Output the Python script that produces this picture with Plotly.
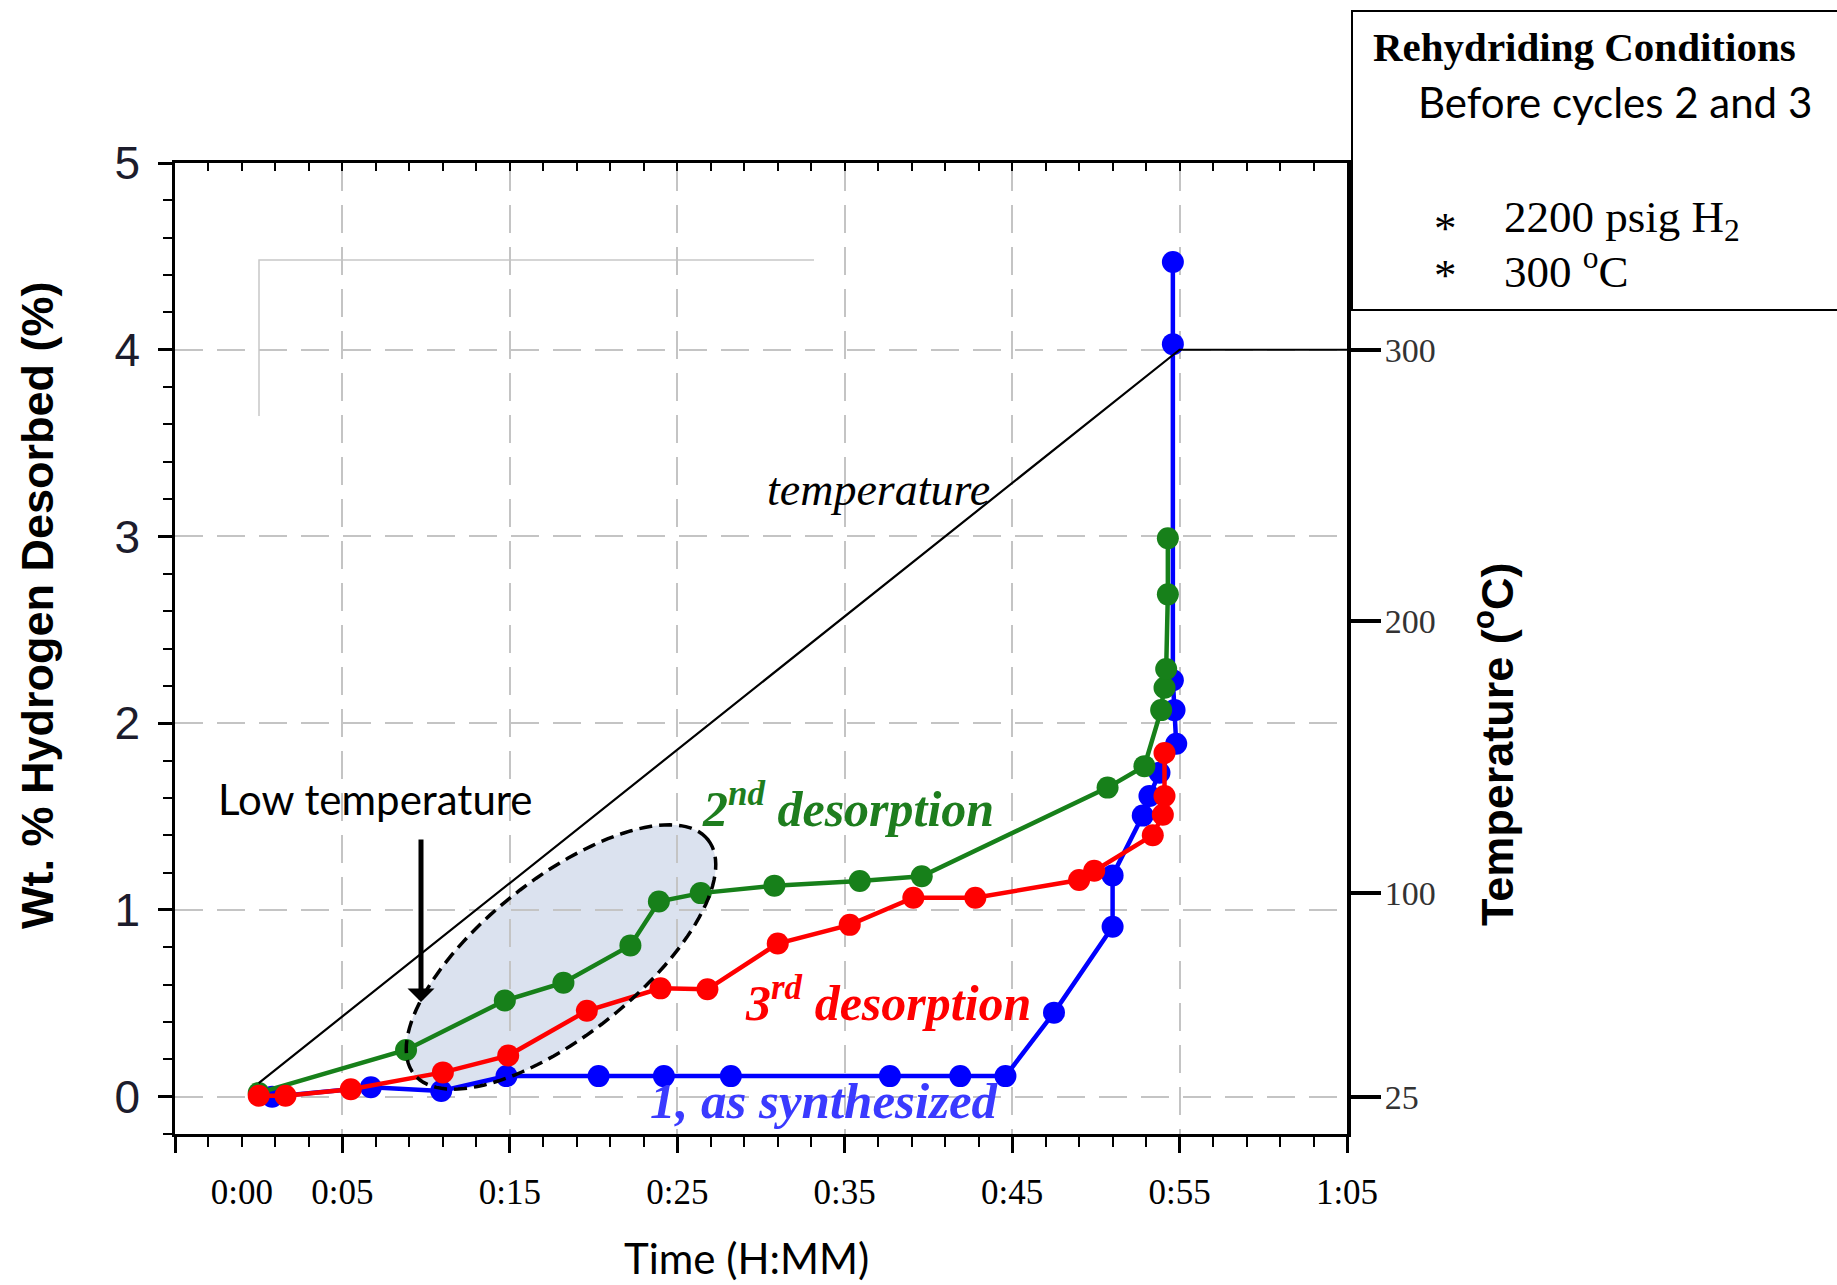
import numpy as np
import plotly.graph_objects as go

# ---------------- data ----------------
# time in minutes, wt.% hydrogen desorbed
blue_time = [0.8, 6.7, 10.9, 14.8, 20.3, 24.2, 28.2, 37.7, 41.9, 44.6, 47.5, 51.0, 51.0,
             52.8, 53.2, 53.8, 54.8, 54.7, 54.6, 54.6, 54.6]
blue_wt = [0.0, 0.05, 0.03, 0.11, 0.11, 0.11, 0.11, 0.11, 0.11, 0.11, 0.45, 0.91, 1.185,
           1.505, 1.61, 1.735, 1.89, 2.07, 2.23, 4.03, 4.47]

green_time = [0.0, 8.8, 14.7, 18.2, 22.2, 23.9, 26.4, 30.8, 35.9, 39.6, 50.7, 52.9, 53.9,
              54.1, 54.2, 54.3, 54.3]
green_wt = [0.02, 0.25, 0.515, 0.61, 0.81, 1.045, 1.09, 1.13, 1.155, 1.18, 1.655, 1.77, 2.07,
            2.19, 2.29, 2.69, 2.99]

red_time = [0.0, 1.6, 5.5, 11.0, 14.9, 19.6, 24.0, 26.8, 31.0, 35.3, 39.1, 42.8, 49.0, 49.9,
            53.4, 54.0, 54.1, 54.1]
red_wt = [0.005, 0.005, 0.04, 0.13, 0.22, 0.46, 0.58, 0.575, 0.82, 0.92, 1.065, 1.065, 1.16,
          1.21, 1.40, 1.51, 1.61, 1.84]

temp_time = [0.0, 55.0, 65.0]
temp_c = [30, 300, 300]

x_tick_vals = [-5, 5, 15, 25, 35, 45, 55, 65]
x_label_vals = [-1, 5, 15, 25, 35, 45, 55, 65]
x_label_text = ["0:00", "0:05", "0:15", "0:25", "0:35", "0:45", "0:55", "1:05"]
y_tick_vals = [0, 1, 2, 3, 4, 5]
temp_tick_vals = [25, 100, 200, 300]

# ---------------- layout geometry ----------------
W, H = 1837, 1285
L, R, T, B = 175, 1347, 163, 1134          # plot area in px
XMIN, XMAX = -5, 65
YMIN, YMAX = -0.2, 5


def wt_to_c(w):
    # temperature axis: 25 C aligned with 0 wt%, 300 C aligned with 4 wt%
    return 25 + w * (300 - 25) / 4.0


def pxp(x):  # pixel -> paper x
    return (x - L) / (R - L)


def pyp(y):  # pixel -> paper y
    return (B - y) / (B - T)


def dx(x):   # pixel -> data x
    return XMIN + (x - L) / (R - L) * (XMAX - XMIN)


def dy(y):   # pixel -> data y
    return YMIN + (B - y) / (B - T) * (YMAX - YMIN)


SERIF = "Liberation Serif"
SANS = "Liberation Sans"
CAL = "Lato"
GRID = "#c4c4c4"


def label(text, x, y, family, size, color="black", xanchor="center", angle=0):
    return dict(text=text, x=pxp(x), y=pyp(y), xref="paper", yref="paper",
                xanchor=xanchor, yanchor="middle", textangle=angle, showarrow=False,
                font=dict(family=family, size=size, color=color))


fig = go.Figure()

fig.add_trace(go.Scatter(x=temp_time, y=temp_c, yaxis="y2", mode="lines",
                         line=dict(color="black", width=2.2), hoverinfo="skip"))
fig.add_trace(go.Scatter(x=blue_time, y=blue_wt, mode="lines+markers",
                         line=dict(color="#0000ff", width=4.5),
                         marker=dict(color="#0000ff", size=22, symbol="circle")))
fig.add_trace(go.Scatter(x=green_time, y=green_wt, mode="lines+markers",
                         line=dict(color="#17801a", width=4.5),
                         marker=dict(color="#17801a", size=22, symbol="circle")))
fig.add_trace(go.Scatter(x=red_time, y=red_wt, mode="lines+markers",
                         line=dict(color="#ff0000", width=4.5),
                         marker=dict(color="#ff0000", size=22, symbol="circle")))
# carriers for the label axis and the top border axis
fig.add_trace(go.Scatter(x=[None], y=[None], xaxis="x2", showlegend=False, hoverinfo="skip"))
fig.add_trace(go.Scatter(x=[None], y=[None], xaxis="x3", showlegend=False, hoverinfo="skip"))

# ---------------- ellipse highlighting the low temperature region ----------------
ecx, ecy = 561, 957          # centre px
ea, eb, eth = 188, 78, np.deg2rad(38.6)
tt = np.linspace(0, 2 * np.pi, 121)
ex_px = ecx + ea * np.cos(tt) * np.cos(eth) - eb * np.sin(tt) * np.sin(eth)
ey_px = ecy - (ea * np.cos(tt) * np.sin(eth) + eb * np.sin(tt) * np.cos(eth))
ex_d = [dx(v) for v in ex_px]
ey_d = [dy(v) for v in ey_px]
epath = "M " + " L ".join(f"{a:.4f},{b:.4f}" for a, b in zip(ex_d, ey_d)) + " Z"

shapes = [
    dict(type="path", path=epath, xref="x", yref="y", layer="below",
         fillcolor="#dbe2ef", line=dict(width=0)),
    dict(type="path", path=epath, xref="x", yref="y", layer="above",
         fillcolor="rgba(0,0,0,0)", line=dict(color="black", width=3.5, dash="13px,7px")),
    # faint leftover frame lines
    dict(type="path", path=f"M {dx(259)},{dy(416)} L {dx(259)},{dy(260)} L {dx(814)},{dy(260)}",
         xref="x", yref="y", line=dict(color="#c8c8c8", width=1.5), layer="below"),
    # rehydriding conditions box
    dict(type="rect", xref="paper", yref="paper", x0=pxp(1352), x1=pxp(1850),
         y0=pyp(310), y1=pyp(11), line=dict(color="black", width=2), fillcolor="white",
         layer="above"),
]

annotations = [
    # axis titles
    label("<b>Wt. % Hydrogen Desorbed (%)</b>", 37, 605, SANS, 45, angle=-90),
    label("<b>Temperature (<sup>o</sup>C)</b>", 1494, 745, SANS, 45, angle=-90),
    label("Time (H:MM)", 746, 1258, CAL, 42),
    # in-plot labels
    label("<i>temperature</i>", 878, 489, SERIF, 46),
    label("<b><i>2<sup>nd</sup> desorption</i></b>", 848, 806, SERIF, 50, "#1e7d1e"),
    label("<b><i>3<sup>rd</sup> desorption</i></b>", 888, 999, SERIF, 50, "#ff0000"),
    label("<b><i>1, as synthesized</i></b>", 824, 1101, SERIF, 51, "#3a3aff"),
    label("Low temperature", 375, 799, CAL, 42),
    dict(text="", x=dx(421), y=dy(1002), ax=dx(421), ay=dy(838), xref="x", yref="y",
         axref="x", ayref="y", showarrow=True, arrowhead=1, arrowsize=0.9, arrowwidth=5,
         arrowcolor="black"),
    # conditions box text
    label("<b>Rehydriding Conditions</b>", 1371, 47, SERIF, 41, xanchor="left"),
    label("Before cycles 2 and 3", 1416, 102, CAL, 42, xanchor="left"),
    label("*", 1432, 228, SERIF, 45, xanchor="left"),
    label("*", 1432, 275, SERIF, 45, xanchor="left"),
    label("2200 psig H<sub>2</sub>", 1502, 220, SERIF, 45, xanchor="left"),
    label("300 <sup>o</sup>C", 1502, 268, SERIF, 45, xanchor="left"),
]

fig.update_layout(
    width=W, height=H, autosize=False,
    margin=dict(l=L, r=W - R, t=T, b=H - B, pad=0),
    paper_bgcolor="white", plot_bgcolor="white",
    showlegend=False,
    shapes=shapes, annotations=annotations,
    xaxis=dict(range=[XMIN, XMAX], tickmode="array", tickvals=x_tick_vals,
               showticklabels=False, ticks="outside", ticklen=16, tickwidth=2.5,
               tickcolor="black", showline=True, linewidth=3, linecolor="black",
               showgrid=True, gridcolor=GRID, gridwidth=2, griddash="28px,14px",
               zeroline=False,
               minor=dict(tick0=-5, dtick=2, ticks="outside", ticklen=10, tickwidth=2,
                          tickcolor="black", showgrid=False)),
    xaxis2=dict(range=[XMIN, XMAX], overlaying="x", side="bottom", anchor="y",
                tickmode="array", tickvals=x_label_vals, ticktext=x_label_text,
                ticks="", showgrid=False, showline=False, zeroline=False,
                ticklabelstandoff=34,
                tickfont=dict(family=SERIF, size=35, color="black")),
    xaxis3=dict(range=[XMIN, XMAX], overlaying="x", side="top", anchor="y",
                tickmode="linear", tick0=-5, dtick=2, ticks="inside", ticklen=8,
                tickwidth=2, tickcolor="black", showticklabels=False, showgrid=False,
                showline=True, linewidth=3, linecolor="black", zeroline=False),
    yaxis=dict(range=[YMIN, YMAX], tickmode="array", tickvals=y_tick_vals,
               ticks="outside", ticklen=14, tickwidth=2.5, tickcolor="black",
               showline=True, linewidth=2.5, linecolor="black",
               showgrid=True, gridcolor=GRID, gridwidth=2, griddash="28px,14px",
               zeroline=False, ticklabelstandoff=9,
               tickfont=dict(family=SANS, size=46, color="#1c1c2c"),
               minor=dict(tick0=0, dtick=0.2, ticks="outside", ticklen=9, tickwidth=2,
                          tickcolor="black", showgrid=False)),
    yaxis2=dict(range=[wt_to_c(YMIN), wt_to_c(YMAX)], overlaying="y", side="right",
                anchor="x", tickmode="array", tickvals=temp_tick_vals, ticks="outside",
                ticklen=30, tickwidth=4, tickcolor="black", showline=True, linewidth=4,
                linecolor="black", showgrid=False, zeroline=False, ticklabelstandoff=-3,
                tickfont=dict(family=SERIF, size=34, color="#333333")),
)

fig.write_html("out.html")
